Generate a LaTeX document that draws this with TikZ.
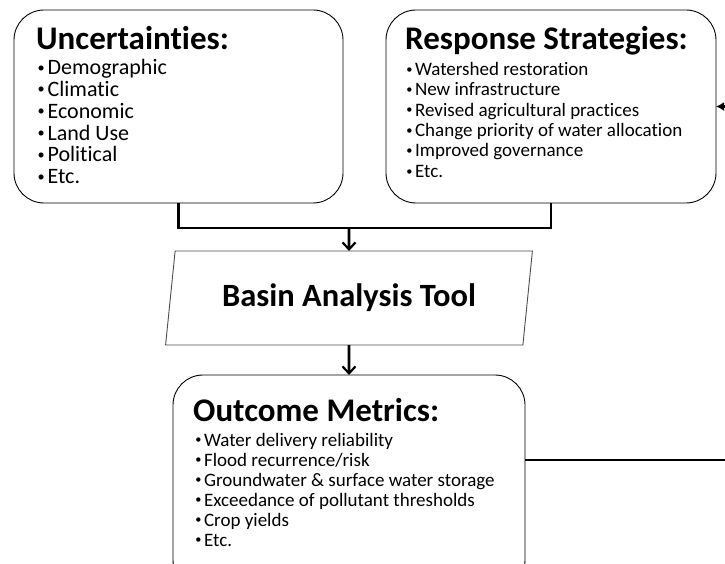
\documentclass[tikz,border=0pt]{standalone}
\usepackage{fontspec}
\setmainfont{Carlito}[Ligatures=NoCommon]
\usetikzlibrary{arrows.meta,shapes.geometric}

\newcommand{\bul}{\makebox[0.52em][l]{\hspace{0.06em}\raisebox{0.12em}{\scalebox{0.65}{•}}}}

\tikzset{
  box/.style={draw=black, line width=0.9pt, rounded corners=30pt, inner sep=0pt, outer sep=0pt},
  tool/.style={draw=black!70, line width=0.9pt, trapezium, trapezium left angle=76, trapezium right angle=104,
    trapezium stretches=true, minimum width=368pt, minimum height=94pt, inner sep=0pt, outer sep=0pt,
    font=\fontsize{32.5}{36}\selectfont\bfseries},
  title/.style={anchor=base west, inner sep=0pt, font=\fontsize{33}{36}\selectfont\bfseries},
  itemA/.style={anchor=base west, inner sep=0pt, font=\fontsize{22}{24}\selectfont},
  itemB/.style={anchor=base west, inner sep=0pt, font=\fontsize{19}{20}\selectfont},
  link/.style={line width=2.7pt},
  down/.style={link, -{Straight Barb[length=7pt,width=13pt,line width=2.2pt]}},
  back/.style={link, -{Latex[length=8pt,width=9pt]}}
}

\begin{document}
\begin{tikzpicture}[x=1pt,y=-1pt]
\useasboundingbox (0,0) rectangle (725,564);
\clip (0,0) rectangle (725,564);
%
\node[box, minimum width=329pt, minimum height=193pt] (unc) at (178.5,106.5) {};
\node[box, minimum width=330pt, minimum height=193pt] (resp) at (551,106.5) {};
\node[tool] (tool) at (349,298) {Basin Analysis Tool};
\node[box, minimum width=352pt, minimum height=215pt] (outc) at (349,482.5) {};
%
\node[title] (unc-t) at (36,50) {Uncertainties:};
\foreach \txt [count=\i] in {Demographic, Climatic, Economic, Land Use, Political, Etc.}
  \node[itemA] (unc-\i) at (36,53+21.8*\i) {\bul\txt};
%
\node[title] (resp-t) at (405,50) {Response Strategies:};
\foreach \txt [count=\i] in {Watershed restoration, New infrastructure, Revised agricultural practices,
  Change priority of water allocation, Improved governance, Etc.}
  \node[itemB] (resp-\i) at (405,55+20.4*\i) {\bul\txt};
%
\node[title] (outc-t) at (193,421) {Outcome Metrics:};
\foreach \txt [count=\i] in {Water delivery reliability, Flood recurrence/risk, Groundwater \& surface water storage,
  Exceedance of pollutant thresholds, Crop yields, Etc.}
  \node[itemB] (outc-\i) at (194,426+20*\i) {\bul\txt};
%
\coordinate (join) at (349,228);
\coordinate (fb) at (760,460);
\draw[link] (unc.south) |- (join) -| (resp.south);
\draw[down] (join) -- (tool.north);
\draw[down] (tool.south) -- (outc.north);
\draw[back] (fb -| outc.east) -- (fb) |- (resp.east);
%
\end{tikzpicture}
\end{document}
